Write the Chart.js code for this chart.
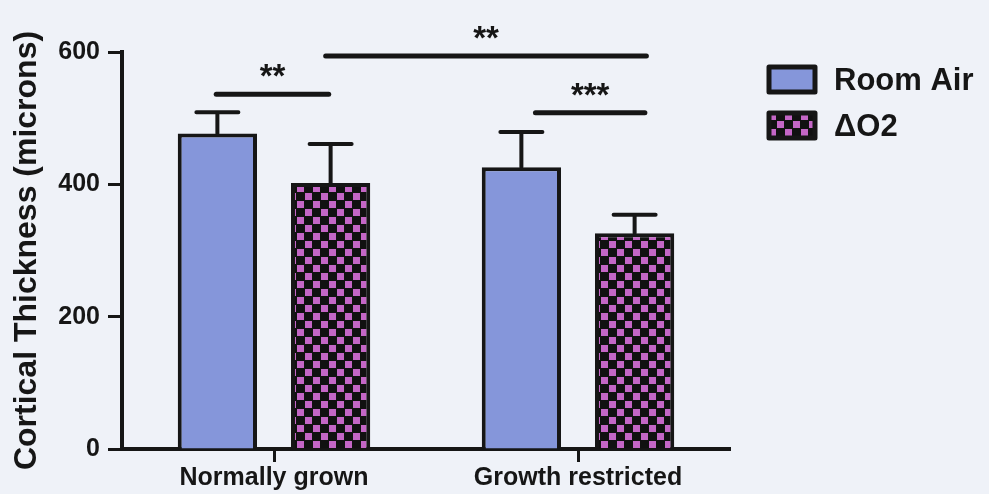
<!DOCTYPE html>
<html>
<head>
<meta charset="utf-8">
<script src="https://cdn.jsdelivr.net/npm/chart.js@4/dist/chart.umd.min.js"></script>
<style>
  html, body { margin: 0; padding: 0; background: #eff2f8; }
  #wrap { width: 989px; height: 494px; position: relative; }
</style>
</head>
<body>
<div id="wrap"><canvas id="thicknessChart"></canvas></div>
<script>
'use strict'

// cortical thickness, mean and SEM per group
const categories = ['Normally grown', 'Growth restricted'];
const roomAir = [477, 426];
const roomAirErr = [32, 53];
const deltaO2 = [402, 326];
const deltaO2Err = [59, 28];
const yTicks = [0, 200, 400, 600];

// significance brackets: ends in category units, height in microns
const brackets = [
    { from: -0.19, to: 0.18, y: 536, label: '**' },
    { from: 0.17, to: 1.225, y: 594, label: '**' },
    { from: 0.86, to: 1.22, y: 508, label: '***' }
];

const FONT = '"Liberation Sans", Arial, sans-serif';
const INK = '#161616';

function checker() {
    let c = document.createElement('canvas');
    c.width = 16;
    c.height = 16;
    let g = c.getContext('2d');
    g.fillStyle = '#111';
    g.fillRect(0, 0, 16, 16);
    g.fillStyle = '#c466c6';
    g.fillRect(1, 1, 7, 7);
    g.fillRect(9, 9, 7, 7);
    return g.createPattern(c, 'repeat');
}
const checkPattern = checker();

/**
 * error bars (upper half only), brackets and the legend
 */
const extras = {
    id: 'extras',
    afterDatasetsDraw(chart) {
        let ctx = chart.ctx;
        let y = chart.scales.y;
        let x = chart.scales.x;
        let errs = [roomAirErr, deltaO2Err];
        ctx.save();
        ctx.strokeStyle = INK;
        ctx.lineWidth = 4;
        ctx.lineCap = 'round';
        chart.data.datasets.forEach(function (ds, d) {
            chart.getDatasetMeta(d).data.forEach(function (bar, i) {
                let top = y.getPixelForValue(ds.data[i] + errs[d][i]);
                ctx.beginPath();
                ctx.moveTo(bar.x, bar.y);
                ctx.lineTo(bar.x, top);
                ctx.moveTo(bar.x - 21, top);
                ctx.lineTo(bar.x + 21, top);
                ctx.stroke();
            });
        });

        ctx.lineWidth = 5;
        ctx.fillStyle = INK;
        ctx.textAlign = 'center';
        ctx.textBaseline = 'middle';
        ctx.font = 'bold 33px ' + FONT;
        brackets.forEach(function (b) {
            let x1 = x.getPixelForValue(b.from);
            let x2 = x.getPixelForValue(b.to);
            let py = y.getPixelForValue(b.y);
            ctx.beginPath();
            ctx.moveTo(x1, py);
            ctx.lineTo(x2, py);
            ctx.stroke();
            ctx.fillText(b.label, (x1 + x2) / 2, py - 16);
        });

        // legend
        ctx.lineCap = 'butt';
        ctx.lineJoin = 'round';
        ctx.font = 'bold 31px ' + FONT;
        ctx.textAlign = 'left';
        chart.data.datasets.forEach(function (ds, d) {
            let bx = 769;
            let by = 67 + d * 46;
            ctx.fillStyle = ds.backgroundColor;
            ctx.fillRect(bx, by, 46, 25);
            ctx.lineWidth = 5;
            ctx.strokeRect(bx, by, 46, 25);
            ctx.fillStyle = INK;
            ctx.fillText(ds.label, 834, by + 14);
        });
        ctx.restore();
    }
};

Chart.defaults.font.family = FONT;
Chart.defaults.color = INK;

let ctx = document.getElementById('thicknessChart');
let thicknessChart = new Chart(ctx, {
    type: 'bar',
    data: {
        labels: categories,
        datasets: [{
            label: 'Room Air',
            data: roomAir,
            backgroundColor: '#8596da',
            borderColor: INK,
            borderWidth: 4
        }, {
            label: '\u0394O2',
            data: deltaO2,
            backgroundColor: checkPattern,
            borderColor: INK,
            borderWidth: 4
        }]
    },
    options: {
        responsive: true,
        maintainAspectRatio: false,
        animation: false,
        categoryPercentage: 0.745,
        barPercentage: 0.7,
        layout: {
            padding: { left: 2, top: 52, right: 259, bottom: 0 }
        },
        plugins: {
            legend: { display: false },
            tooltip: { enabled: false }
        },
        scales: {
            x: {
                grid: {
                    offset: false,
                    drawOnChartArea: false,
                    tickLength: 13,
                    tickWidth: 3,
                    tickColor: INK
                },
                border: { color: INK, width: 4 },
                ticks: {
                    padding: 1,
                    font: { size: 25, weight: 'bold' }
                },
                afterFit: function (s) { s.height = 45; }
            },
            y: {
                min: 0,
                max: 600,
                afterBuildTicks: function (s) {
                    s.ticks = yTicks.map(function (v) { return { value: v }; });
                },
                grid: {
                    drawOnChartArea: false,
                    tickLength: 14,
                    tickWidth: 3,
                    tickColor: INK
                },
                border: { color: INK, width: 4 },
                ticks: {
                    padding: 8,
                    font: { size: 25, weight: 'bold' }
                },
                title: {
                    display: true,
                    text: 'Cortical Thickness (microns)',
                    font: { size: 32, weight: 'bold' },
                    padding: { top: 6, bottom: 4 }
                },
                afterFit: function (s) { s.width = 120; }
            }
        }
    },
    plugins: [extras]
});
</script>
</body>
</html>
